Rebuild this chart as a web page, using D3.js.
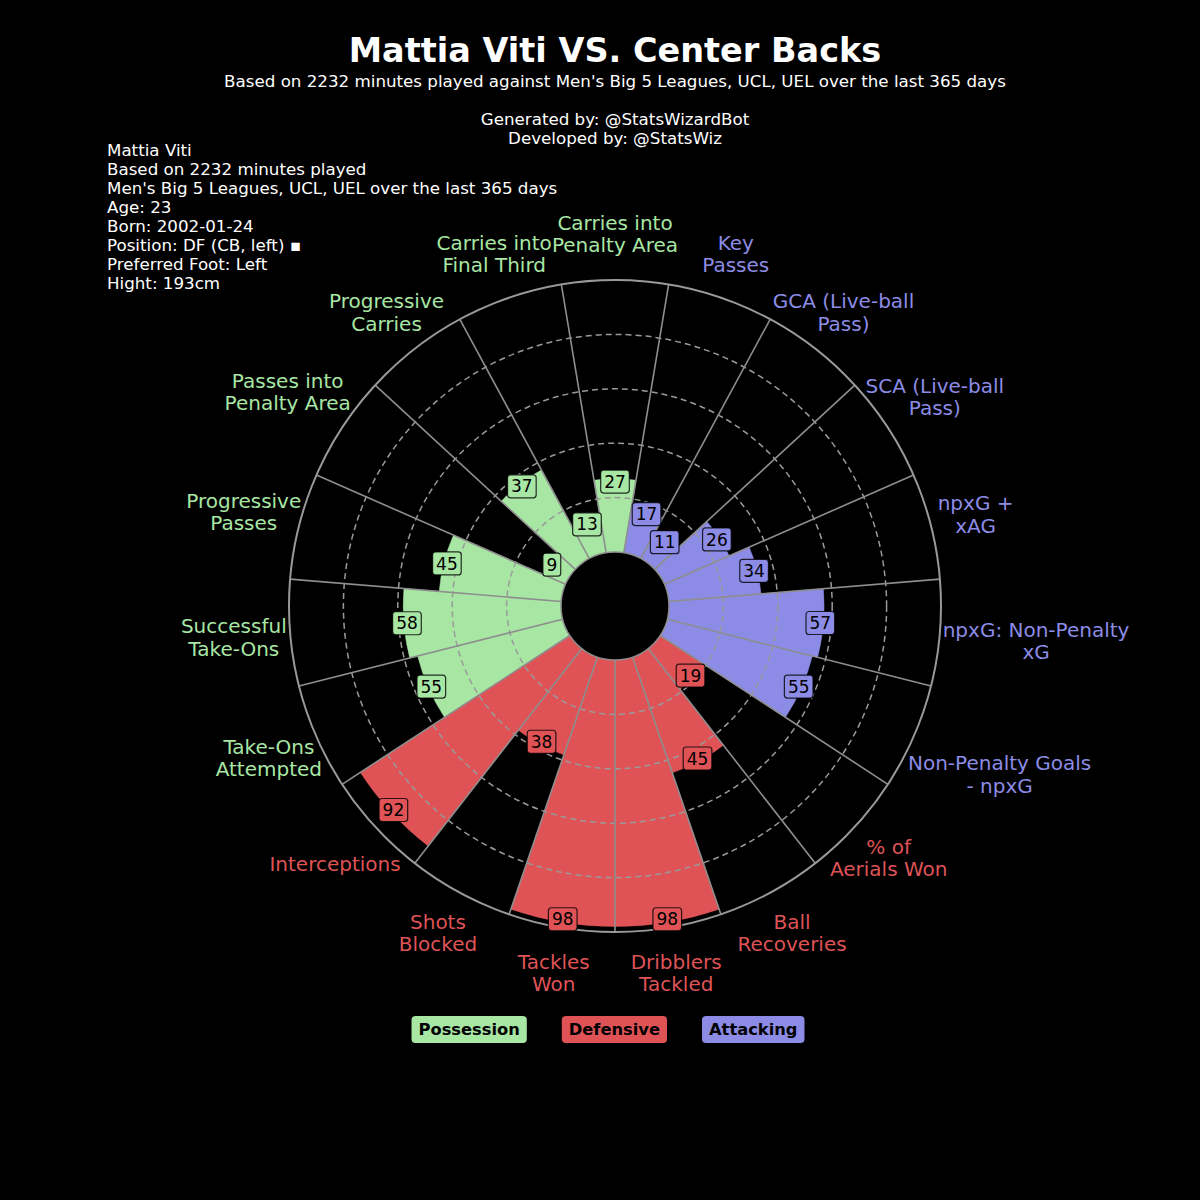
<!DOCTYPE html>
<html>
<head>
<meta charset="utf-8">
<script src="https://cdn.jsdelivr.net/npm/d3@7"></script>
<style>
  html, body { margin: 0; padding: 0; background: #000; }
  svg { display: block; font-family: "DejaVu Sans", sans-serif; }
</style>
</head>
<body>
<svg id="chart" width="1200" height="1200"></svg>
<script>
// ---------------- data ----------------
const params = [
  "Carries into\nPenalty Area", "Carries into\nFinal Third", "Progressive\nCarries",
  "Passes into\nPenalty Area", "Progressive\nPasses", "Successful\nTake-Ons",
  "Take-Ons\nAttempted", "Interceptions", "Shots\nBlocked", "Tackles\nWon",
  "Dribblers\nTackled", "Ball\nRecoveries", "% of\nAerials Won",
  "Non-Penalty Goals\n- npxG", "npxG: Non-Penalty\nxG", "npxG +\nxAG",
  "SCA (Live-ball\nPass)", "GCA (Live-ball\nPass)", "Key\nPasses"
];
const values = [27, 13, 37, 9, 45, 58, 55, 92, 38, 98, 98, 45, 19, 55, 57, 34, 26, 11, 17];
const paramGroups = [0, 0, 0, 0, 0, 0, 0, 1, 1, 1, 1, 1, 1, 2, 2, 2, 2, 2, 2];
const groupNames = ["Possession", "Defensive", "Attacking"];
const groupColors = ["#a8e6a4", "#df5357", "#8c8ce6"];
const gridTicks = [20, 40, 60, 80];
const title = "Mattia Viti VS. Center Backs";
const subtitleLines = [
  "Based on 2232 minutes played against Men's Big 5 Leagues, UCL, UEL over the last 365 days",
  "",
  "Generated by: @StatsWizardBot",
  "Developed by: @StatsWiz"
];
const infoLines = [
  "Mattia Viti",
  "Based on 2232 minutes played",
  "Men's Big 5 Leagues, UCL, UEL over the last 365 days",
  "Age: 23",
  "Born: 2002-01-24",
  "Position: DF (CB, left) \u25AA",
  "Preferred Foot: Left",
  "Hight: 193cm"
];

// ---------------- layout ----------------
const svg = d3.select("#chart");
const cx = 615, cy = 606;
const R_IN = 54, R_OUT = 326;
const rScale = d3.scaleLinear().domain([0, 100]).range([R_IN, R_OUT]);
const n = params.length;
const step = 2 * Math.PI / n;
const angleOf = i => -i * step;   // d3 angle (clockwise from 12 o'clock); order runs counter-clockwise
const gridColor = "#8e8e8e";

svg.append("rect").attr("width", 1200).attr("height", 1200).attr("fill", "#000");

// title & subtitle
svg.append("text").attr("x", 615).attr("y", 62).attr("text-anchor", "middle")
  .attr("fill", "#fff").attr("font-size", 33.5).attr("font-weight", "bold").text(title);
subtitleLines.forEach((s, i) => {
  svg.append("text").attr("x", 615).attr("y", 87 + i * 19).attr("text-anchor", "middle")
    .attr("fill", "#fff").attr("font-size", 16.7).text(s);
});

// info block
infoLines.forEach((s, i) => {
  svg.append("text").attr("x", 107).attr("y", 156 + i * 19)
    .attr("fill", "#fff").attr("font-size", 16.7).text(s);
});

const g = svg.append("g").attr("transform", `translate(${cx},${cy})`);

// bars
const arc = d3.arc();
g.selectAll("path.bar").data(values).join("path")
  .attr("class", "bar")
  .attr("d", (v, i) => arc({
    innerRadius: R_IN, outerRadius: rScale(v),
    startAngle: angleOf(i) - step / 2, endAngle: angleOf(i) + step / 2
  }))
  .attr("fill", (v, i) => groupColors[paramGroups[i]])
  .attr("stroke", (v, i) => groupColors[paramGroups[i]])
  .attr("stroke-width", 0.5);

// dashed grid circles
g.selectAll("circle.grid").data(gridTicks).join("circle")
  .attr("class", "grid").attr("r", d => rScale(d))
  .attr("fill", "none").attr("stroke", "#9a9a9a").attr("stroke-width", 1.5)
  .attr("stroke-dasharray", "6,4");

// slice boundary lines
g.selectAll("line.sep").data(d3.range(n)).join("line")
  .attr("class", "sep")
  .attr("x1", i => R_IN * Math.sin(angleOf(i) + step / 2))
  .attr("y1", i => -R_IN * Math.cos(angleOf(i) + step / 2))
  .attr("x2", i => R_OUT * Math.sin(angleOf(i) + step / 2))
  .attr("y2", i => -R_OUT * Math.cos(angleOf(i) + step / 2))
  .attr("stroke", gridColor).attr("stroke-width", 1.6);

// outer circle
g.append("circle").attr("r", rScale(100)).attr("fill", "none")
  .attr("stroke", "#999").attr("stroke-width", 2);
// inner hole
g.append("circle").attr("r", R_IN).attr("fill", "#000")
  .attr("stroke", gridColor).attr("stroke-width", 1.5);

// value labels
const VFS = 17;
values.forEach((v, i) => {
  const a = angleOf(i);
  const r = rScale(v) - 3;
  const x = r * Math.sin(a), y = -r * Math.cos(a);
  const lg = g.append("g");
  const t = lg.append("text").attr("x", x).attr("y", y + VFS * 0.36)
    .attr("text-anchor", "middle").attr("font-size", VFS).attr("fill", "#000").text(v);
  const w = t.node().getComputedTextLength();
  lg.insert("rect", "text")
    .attr("x", x - w / 2 - 3.5).attr("y", y - 11.5).attr("width", w + 7).attr("height", 23)
    .attr("rx", 3).attr("ry", 3)
    .attr("fill", groupColors[paramGroups[i]])
    .attr("stroke", "#000").attr("stroke-opacity", 0.8).attr("stroke-width", 1.2);
});

// parameter labels (pushed outward until they clear the outer ring)
const PFS = 20, LH = 22.5, BASE_R = 372, PAD = 2;
params.forEach((p, i) => {
  const lines = p.split("\n");
  const a = angleOf(i);
  const t = g.append("text").attr("text-anchor", "middle").attr("font-size", PFS)
    .attr("fill", groupColors[paramGroups[i]]);
  const spans = lines.map(l => t.append("tspan").text(l));
  const widths = spans.map(s => s.node().getComputedTextLength());
  const nl = lines.length;
  let r = BASE_R, x = 0, y = 0, first = 0;
  for (; r < 560; r += 0.5) {
    x = r * Math.sin(a); y = -r * Math.cos(a);
    first = y - (nl - 1) * LH / 2 + 0.35 * PFS;
    let ok = true;
    for (let j = 0; j < nl; j++) {
      const bl = first + j * LH;
      const x0 = x - widths[j] / 2, x1 = x + widths[j] / 2;
      const y0 = bl - 0.8 * PFS, y1 = bl + 0.05 * PFS;
      const px = Math.max(x0, Math.min(0, x1));
      const py = Math.max(y0, Math.min(0, y1));
      if (Math.hypot(px, py) < R_OUT + PAD) { ok = false; break; }
    }
    if (ok) break;
  }
  spans.forEach((s, j) => s.attr("x", x).attr("y", first + j * LH));
});

// legend
const LFS = 16.3, legY = 1016, legH = 27, legGap = 35, legPad = 7;
const legG = svg.append("g");
const items = groupNames.map((name, k) => {
  const t = legG.append("text").attr("font-size", LFS).attr("font-weight", "bold")
    .attr("fill", "#000").attr("text-anchor", "middle").text(name);
  return { t, w: t.node().getComputedTextLength() + 2 * legPad, k };
});
const total = d3.sum(items, d => d.w) + legGap * (items.length - 1);
let lx = 608 - total / 2;
items.forEach(it => {
  legG.insert("rect", "text").attr("x", lx).attr("y", legY).attr("width", it.w).attr("height", legH)
    .attr("rx", 4).attr("ry", 4).attr("fill", groupColors[it.k]);
  it.t.attr("x", lx + it.w / 2).attr("y", legY + legH / 2 + LFS * 0.36);
  lx += it.w + legGap;
});
</script>
</body>
</html>
